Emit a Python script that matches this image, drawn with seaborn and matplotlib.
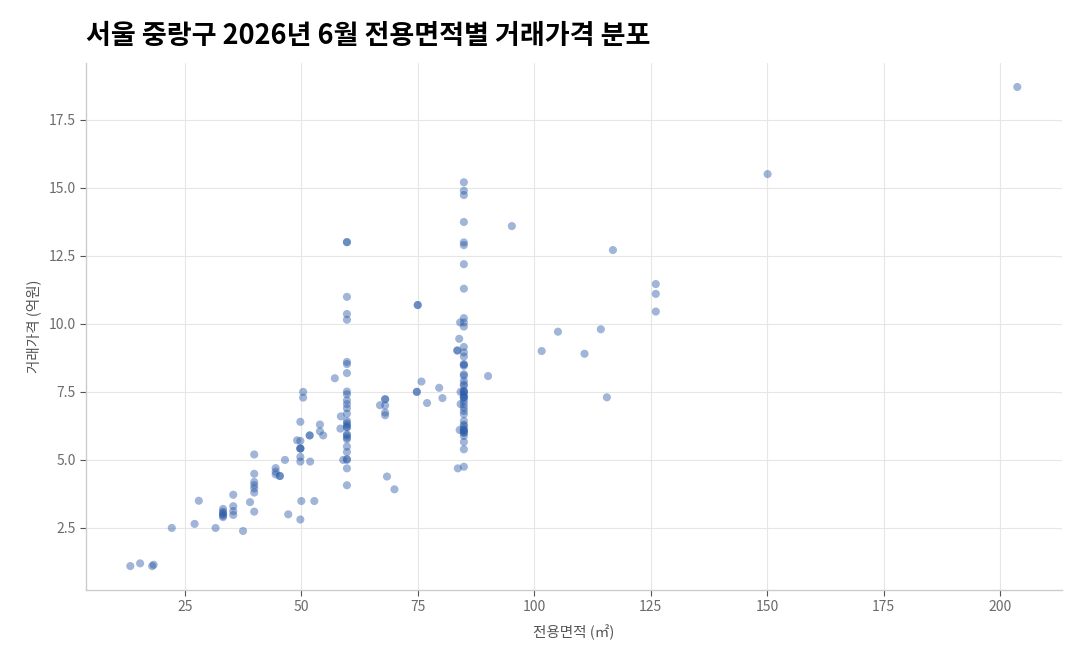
import pandas as pd
import matplotlib
matplotlib.use("Agg")
import matplotlib.pyplot as plt
import seaborn as sns

# -------- DATA --------
area = [
    13.3, 15.4, 18.0, 18.3, 22.2, 27.1, 28.0, 31.6,
    33.2, 33.2, 33.2, 33.2, 33.2, 33.2,
    35.4, 35.4, 35.4, 35.4,
    37.5, 39.0,
    39.9, 39.9, 39.9, 39.9, 39.9, 39.9, 39.9,
    44.5, 44.5, 44.5, 45.4, 45.4,
    46.5, 47.2,
    49.1, 49.8, 49.8, 49.8, 49.8, 49.8, 49.8, 49.8, 50.0, 49.8, 50.4, 50.4,
    51.8, 51.8, 51.9, 52.8, 54.0, 54.0, 54.7, 57.2,
    58.5, 58.4, 59.0,
    59.8, 59.8, 59.8, 59.8, 59.8, 59.8, 59.8, 59.8, 59.8, 59.8,
    59.8, 59.8, 59.8, 59.8, 59.8, 59.8, 59.8, 59.8, 59.8, 59.8,
    59.8, 59.8, 59.8, 59.8, 59.8, 59.8, 59.8, 59.8, 59.8,
    66.9, 68.0, 68.0, 68.0, 68.0, 68.0, 68.4, 70.0,
    74.8, 74.8, 75.0, 75.0, 75.8, 77.0, 79.6, 80.3,
    83.5, 83.5, 83.6, 83.9, 84.1, 84.2, 84.2, 84.0,
    84.9, 84.9, 84.9, 84.9, 84.9, 84.9, 84.9, 84.9, 84.9, 84.9,
    84.9, 84.9, 84.9, 84.9, 84.9, 84.9, 84.9, 84.9, 84.9, 84.9,
    84.9, 84.9, 84.9, 84.9, 84.9, 84.9, 84.9, 84.9, 84.9, 84.9,
    84.9, 84.9, 84.9, 84.9, 84.9, 84.9, 84.9, 84.9, 84.9, 84.9,
    84.9, 84.9, 84.9, 84.9, 84.9, 84.9,
    90.1, 95.2, 101.6, 105.1, 110.8, 114.3, 115.6, 116.9,
    126.1, 126.1, 126.1, 150.1, 203.7,
]
price = [
    1.10, 1.20, 1.10, 1.15, 2.50, 2.65, 3.50, 2.50,
    3.20, 3.10, 3.05, 3.00, 2.95, 2.90,
    3.72, 3.30, 3.12, 2.98,
    2.39, 3.45,
    5.20, 4.49, 4.19, 4.07, 3.95, 3.80, 3.10,
    4.70, 4.57, 4.47, 4.41, 4.41,
    5.00, 3.00,
    5.72, 6.40, 5.42, 5.42, 5.42, 5.70, 5.11, 4.94, 3.49, 2.81, 7.50, 7.29,
    5.90, 5.90, 4.94, 3.49, 6.30, 6.05, 5.90, 8.00,
    6.60, 6.15, 5.00,
    13.0, 13.0, 10.99, 10.36, 10.15, 8.60, 8.52, 8.19, 7.51, 7.41,
    7.19, 7.05, 6.90, 6.70, 6.43, 6.35, 6.28, 6.20, 6.20, 5.94,
    5.90, 5.82, 5.76, 5.49, 5.29, 5.03, 5.00, 4.69, 4.07,
    7.01, 7.23, 7.23, 7.00, 6.74, 6.64, 4.39, 3.92,
    7.50, 7.50, 10.69, 10.69, 7.88, 7.09, 7.65, 7.27,
    9.02, 9.02, 4.69, 9.45, 10.05, 7.50, 7.05, 6.10,
    15.2, 14.89, 14.73, 13.74, 12.99, 12.89, 12.19, 11.29, 10.21, 10.05,
    9.90, 9.15, 8.95, 8.80, 8.52, 8.46, 8.15, 8.09, 7.90, 7.78,
    7.72, 7.54, 7.50, 7.41, 7.32, 7.29, 7.17, 7.05, 6.92, 6.80,
    6.68, 6.43, 6.29, 6.25, 6.13, 6.07, 6.00, 5.88, 5.66, 5.39,
    4.75, 8.50, 7.50, 7.30, 6.00, 6.10,
    8.08, 13.59, 9.00, 9.71, 8.90, 9.80, 7.30, 12.71,
    11.46, 11.10, 10.45, 15.5, 18.7,
]

df = pd.DataFrame({"전용면적": area, "거래가격": price})

# -------- STYLE --------
sns.set_theme(style="whitegrid")
plt.rcParams['font.family'] = ['Noto Sans CJK KR', 'DejaVu Sans']

fig, ax = plt.subplots(figsize=(10.8, 6.6), dpi=100)
fig.subplots_adjust(left=0.0796, right=0.983, top=0.9045, bottom=0.106)

sns.scatterplot(data=df, x="전용면적", y="거래가격", ax=ax,
                color="#2c5ba8", alpha=0.45, s=34, edgecolor="none")

ax.set_title("서울 중랑구 2026년 6월 전용면적별 거래가격 분포", loc="left",
             fontsize=19.5, fontweight="bold", color="black", pad=14)
ax.set_xlabel("전용면적 (㎡)", fontsize=10.5, color="#555555", labelpad=7)
ax.set_ylabel("거래가격 (억원)", fontsize=10.5, color="#555555", labelpad=5)

ax.set_xticks([25, 50, 75, 100, 125, 150, 175, 200])
ax.set_yticks([2.5, 5.0, 7.5, 10.0, 12.5, 15.0, 17.5])
ax.tick_params(axis="both", labelcolor="#6b6b6b", labelsize=10, length=4,
               width=0.8, color="#555555", left=True, bottom=True)

ax.grid(True, color="#e6e6e6", linewidth=0.8)
for side in ["top", "right"]:
    ax.spines[side].set_visible(False)
for side in ["left", "bottom"]:
    ax.spines[side].set_color("#cccccc")
    ax.spines[side].set_linewidth(1.0)

plt.savefig("out.png", dpi=100)
